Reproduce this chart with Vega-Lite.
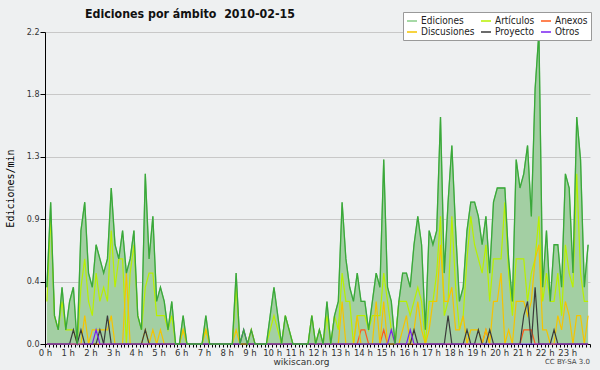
{
"$schema": "https://vega.github.io/schema/vega-lite/v6.json",
"width": 545, "height": 312,
"autosize": {"type": "none"},
"padding": {"left": 45, "top": 32, "right": 10, "bottom": 26},
"background": "#eef0f1",
"title": {"text": "Ediciones por ámbito\u00a0\u00a02010-02-15", "anchor": "start", "frame": "group", "dx": 40, "dy": 15, "offset": 6, "font": "DejaVu Sans Condensed", "fontWeight": "bold", "fontSize": 12.3, "color": "#111"},
"config": {"view": {"stroke": null}, "font": "DejaVu Sans", "axis": {"domainColor": "#000", "tickColor": "#000", "labelColor": "#333", "labelFontSize": 8, "labelFont": "DejaVu Sans"}},
"data": {"values": [
{"m":5,"e":0.4,"a":0.3,"x":0,"d":0,"p":0,"o":0},
{"m":15,"e":1,"a":0.9,"x":0,"d":0,"p":0,"o":0},
{"m":25,"e":0.2,"a":0.2,"x":0,"d":0,"p":0,"o":0},
{"m":35,"e":0.1,"a":0.1,"x":0,"d":0,"p":0,"o":0},
{"m":45,"e":0.4,"a":0.3,"x":0,"d":0,"p":0,"o":0},
{"m":55,"e":0.1,"a":0.1,"x":0,"d":0,"p":0,"o":0},
{"m":65,"e":0.3,"a":0.1,"x":0,"d":0,"p":0,"o":0},
{"m":75,"e":0.4,"a":0.1,"x":0,"d":0,"p":0.1,"o":0},
{"m":85,"e":0,"a":0,"x":0,"d":0,"p":0,"o":0},
{"m":95,"e":0.8,"a":0.4,"x":0,"d":0,"p":0.1,"o":0},
{"m":105,"e":1,"a":0.6,"x":0,"d":0.2,"p":0,"o":0},
{"m":115,"e":0.5,"a":0.3,"x":0,"d":0,"p":0,"o":0},
{"m":125,"e":0.4,"a":0.2,"x":0,"d":0.1,"p":0,"o":0},
{"m":135,"e":0.7,"a":0.5,"x":0,"d":0.1,"p":0,"o":0.1},
{"m":145,"e":0.6,"a":0.3,"x":0,"d":0.1,"p":0.1,"o":0},
{"m":155,"e":0.5,"a":0.4,"x":0,"d":0.1,"p":0,"o":0},
{"m":165,"e":0.6,"a":0.3,"x":0,"d":0.1,"p":0.2,"o":0},
{"m":175,"e":1.1,"a":0.8,"x":0,"d":0.2,"p":0,"o":0},
{"m":185,"e":0.7,"a":0.4,"x":0,"d":0,"p":0,"o":0},
{"m":195,"e":0.6,"a":0.6,"x":0,"d":0,"p":0,"o":0},
{"m":205,"e":0.8,"a":0.6,"x":0,"d":0,"p":0,"o":0},
{"m":215,"e":0.5,"a":0,"x":0,"d":0.5,"p":0,"o":0},
{"m":225,"e":0.6,"a":0.5,"x":0,"d":0,"p":0,"o":0},
{"m":235,"e":0.8,"a":0.7,"x":0,"d":0,"p":0,"o":0},
{"m":245,"e":0.2,"a":0.2,"x":0,"d":0,"p":0,"o":0},
{"m":255,"e":0.1,"a":0.1,"x":0,"d":0,"p":0,"o":0},
{"m":265,"e":1.2,"a":0.4,"x":0,"d":0.1,"p":0.1,"o":0},
{"m":275,"e":0.6,"a":0.5,"x":0,"d":0,"p":0,"o":0},
{"m":285,"e":0.9,"a":0.5,"x":0,"d":0.1,"p":0,"o":0},
{"m":295,"e":0.3,"a":0.2,"x":0,"d":0,"p":0,"o":0},
{"m":305,"e":0.4,"a":0.2,"x":0,"d":0.1,"p":0,"o":0},
{"m":315,"e":0.3,"a":0.2,"x":0,"d":0,"p":0,"o":0},
{"m":325,"e":0.1,"a":0.1,"x":0,"d":0,"p":0,"o":0},
{"m":335,"e":0.3,"a":0.2,"x":0,"d":0,"p":0,"o":0},
{"m":345,"e":0,"a":0,"x":0,"d":0,"p":0,"o":0},
{"m":355,"e":0,"a":0,"x":0,"d":0,"p":0,"o":0},
{"m":365,"e":0.2,"a":0.1,"x":0,"d":0.1,"p":0,"o":0},
{"m":375,"e":0,"a":0,"x":0,"d":0,"p":0,"o":0},
{"m":385,"e":0,"a":0,"x":0,"d":0,"p":0,"o":0},
{"m":395,"e":0,"a":0,"x":0,"d":0,"p":0,"o":0},
{"m":405,"e":0,"a":0,"x":0,"d":0,"p":0,"o":0},
{"m":415,"e":0,"a":0,"x":0,"d":0,"p":0,"o":0},
{"m":425,"e":0.2,"a":0.1,"x":0,"d":0.1,"p":0,"o":0},
{"m":435,"e":0,"a":0,"x":0,"d":0,"p":0,"o":0},
{"m":445,"e":0,"a":0,"x":0,"d":0,"p":0,"o":0},
{"m":455,"e":0,"a":0,"x":0,"d":0,"p":0,"o":0},
{"m":465,"e":0,"a":0,"x":0,"d":0,"p":0,"o":0},
{"m":475,"e":0,"a":0,"x":0,"d":0,"p":0,"o":0},
{"m":485,"e":0,"a":0,"x":0,"d":0,"p":0,"o":0},
{"m":495,"e":0,"a":0,"x":0,"d":0,"p":0,"o":0},
{"m":505,"e":0.5,"a":0.4,"x":0,"d":0.1,"p":0,"o":0},
{"m":515,"e":0,"a":0,"x":0,"d":0,"p":0,"o":0},
{"m":525,"e":0.1,"a":0,"x":0,"d":0,"p":0,"o":0.1},
{"m":535,"e":0,"a":0,"x":0,"d":0,"p":0,"o":0},
{"m":545,"e":0.1,"a":0,"x":0,"d":0.1,"p":0,"o":0},
{"m":555,"e":0,"a":0,"x":0,"d":0,"p":0,"o":0},
{"m":565,"e":0,"a":0,"x":0,"d":0,"p":0,"o":0},
{"m":575,"e":0,"a":0,"x":0,"d":0,"p":0,"o":0},
{"m":585,"e":0,"a":0,"x":0,"d":0,"p":0,"o":0},
{"m":595,"e":0.2,"a":0.1,"x":0,"d":0,"p":0,"o":0},
{"m":605,"e":0.4,"a":0.2,"x":0,"d":0,"p":0,"o":0},
{"m":615,"e":0.2,"a":0.1,"x":0,"d":0,"p":0,"o":0},
{"m":625,"e":0,"a":0,"x":0,"d":0,"p":0,"o":0},
{"m":635,"e":0.2,"a":0.2,"x":0,"d":0,"p":0,"o":0},
{"m":645,"e":0.1,"a":0.1,"x":0,"d":0,"p":0,"o":0},
{"m":655,"e":0,"a":0,"x":0,"d":0,"p":0,"o":0},
{"m":665,"e":0,"a":0,"x":0,"d":0,"p":0,"o":0},
{"m":675,"e":0,"a":0,"x":0,"d":0,"p":0,"o":0},
{"m":685,"e":0,"a":0,"x":0,"d":0,"p":0,"o":0},
{"m":695,"e":0,"a":0,"x":0,"d":0,"p":0,"o":0},
{"m":705,"e":0.2,"a":0.2,"x":0,"d":0,"p":0,"o":0},
{"m":715,"e":0,"a":0,"x":0,"d":0,"p":0,"o":0},
{"m":725,"e":0.1,"a":0.1,"x":0,"d":0,"p":0,"o":0},
{"m":735,"e":0,"a":0,"x":0,"d":0,"p":0,"o":0},
{"m":745,"e":0.3,"a":0.2,"x":0,"d":0,"p":0,"o":0},
{"m":755,"e":0,"a":0,"x":0,"d":0,"p":0,"o":0},
{"m":765,"e":0.2,"a":0.2,"x":0,"d":0,"p":0,"o":0},
{"m":775,"e":0.3,"a":0.1,"x":0,"d":0,"p":0,"o":0},
{"m":785,"e":1,"a":0.5,"x":0,"d":0.3,"p":0,"o":0},
{"m":795,"e":0.6,"a":0.3,"x":0,"d":0,"p":0,"o":0},
{"m":805,"e":0.4,"a":0.3,"x":0,"d":0,"p":0,"o":0},
{"m":815,"e":0.3,"a":0,"x":0,"d":0,"p":0,"o":0},
{"m":825,"e":0.5,"a":0.2,"x":0,"d":0.2,"p":0,"o":0},
{"m":835,"e":0.3,"a":0.2,"x":0.1,"d":0,"p":0,"o":0},
{"m":845,"e":0.3,"a":0.2,"x":0.1,"d":0,"p":0,"o":0},
{"m":855,"e":0.1,"a":0.1,"x":0,"d":0,"p":0,"o":0},
{"m":865,"e":0.3,"a":0.2,"x":0,"d":0,"p":0,"o":0},
{"m":875,"e":0.5,"a":0.2,"x":0,"d":0.3,"p":0,"o":0},
{"m":885,"e":0.4,"a":0.2,"x":0,"d":0,"p":0,"o":0},
{"m":895,"e":1.3,"a":0.5,"x":0.1,"d":0.3,"p":0,"o":0},
{"m":905,"e":0.4,"a":0.3,"x":0,"d":0,"p":0,"o":0},
{"m":915,"e":0.3,"a":0.1,"x":0,"d":0,"p":0,"o":0.1},
{"m":925,"e":0,"a":0,"x":0,"d":0,"p":0,"o":0},
{"m":935,"e":0.3,"a":0.3,"x":0,"d":0,"p":0,"o":0},
{"m":945,"e":0.5,"a":0.3,"x":0,"d":0.1,"p":0,"o":0},
{"m":955,"e":0.5,"a":0.3,"x":0,"d":0.2,"p":0,"o":0},
{"m":965,"e":0.4,"a":0.2,"x":0,"d":0,"p":0,"o":0.1},
{"m":975,"e":0.7,"a":0.3,"x":0,"d":0.1,"p":0.1,"o":0},
{"m":985,"e":0.9,"a":0.4,"x":0,"d":0.3,"p":0,"o":0},
{"m":995,"e":0.7,"a":0.3,"x":0,"d":0.1,"p":0,"o":0},
{"m":1005,"e":0.1,"a":0,"x":0,"d":0,"p":0,"o":0},
{"m":1015,"e":0.8,"a":0.3,"x":0,"d":0.1,"p":0,"o":0},
{"m":1025,"e":0.7,"a":0.3,"x":0,"d":0.3,"p":0,"o":0},
{"m":1035,"e":0.8,"a":0.5,"x":0,"d":0.3,"p":0,"o":0},
{"m":1045,"e":1.6,"a":0.9,"x":0,"d":0.7,"p":0,"o":0},
{"m":1055,"e":0.5,"a":0.2,"x":0,"d":0.3,"p":0,"o":0},
{"m":1065,"e":1,"a":0.3,"x":0,"d":0.3,"p":0.2,"o":0},
{"m":1075,"e":1.4,"a":0.9,"x":0,"d":0.4,"p":0,"o":0},
{"m":1085,"e":0.8,"a":0.4,"x":0,"d":0.1,"p":0,"o":0},
{"m":1095,"e":0.3,"a":0.1,"x":0,"d":0.1,"p":0,"o":0},
{"m":1105,"e":0.4,"a":0.2,"x":0,"d":0.2,"p":0,"o":0},
{"m":1115,"e":0.8,"a":0.6,"x":0,"d":0,"p":0.1,"o":0},
{"m":1125,"e":1,"a":0.9,"x":0,"d":0.1,"p":0,"o":0},
{"m":1135,"e":1,"a":0.7,"x":0,"d":0.1,"p":0,"o":0},
{"m":1145,"e":0.9,"a":0.6,"x":0,"d":0.1,"p":0.1,"o":0},
{"m":1155,"e":0.7,"a":0.5,"x":0,"d":0,"p":0,"o":0},
{"m":1165,"e":0.9,"a":0.7,"x":0.1,"d":0.1,"p":0,"o":0},
{"m":1175,"e":0.5,"a":0.3,"x":0,"d":0,"p":0.1,"o":0},
{"m":1185,"e":1,"a":0.6,"x":0,"d":0.3,"p":0,"o":0},
{"m":1195,"e":1.1,"a":0.6,"x":0,"d":0.3,"p":0,"o":0},
{"m":1205,"e":1.1,"a":0.6,"x":0,"d":0.5,"p":0,"o":0},
{"m":1215,"e":1.1,"a":1,"x":0,"d":0,"p":0,"o":0},
{"m":1225,"e":0.6,"a":0.5,"x":0,"d":0.1,"p":0,"o":0},
{"m":1235,"e":0.3,"a":0.2,"x":0,"d":0,"p":0,"o":0},
{"m":1245,"e":1.3,"a":0.6,"x":0,"d":0.3,"p":0,"o":0},
{"m":1255,"e":1.1,"a":0.6,"x":0,"d":0.3,"p":0,"o":0},
{"m":1265,"e":1.2,"a":0.6,"x":0.1,"d":0.3,"p":0.2,"o":0},
{"m":1275,"e":1.4,"a":0.3,"x":0.1,"d":0.2,"p":0.3,"o":0},
{"m":1285,"e":0.9,"a":0.5,"x":0.1,"d":0.3,"p":0,"o":0},
{"m":1295,"e":1.8,"a":0.6,"x":0,"d":0.6,"p":0.4,"o":0},
{"m":1305,"e":2.2,"a":0.9,"x":0,"d":0.7,"p":0,"o":0},
{"m":1315,"e":0.4,"a":0.3,"x":0,"d":0.1,"p":0,"o":0},
{"m":1325,"e":0.8,"a":0.5,"x":0,"d":0.1,"p":0,"o":0},
{"m":1335,"e":0.3,"a":0.3,"x":0,"d":0,"p":0,"o":0},
{"m":1345,"e":0.7,"a":0.3,"x":0,"d":0,"p":0.1,"o":0},
{"m":1355,"e":0.7,"a":0.5,"x":0,"d":0.2,"p":0,"o":0},
{"m":1365,"e":0.4,"a":0.2,"x":0,"d":0.1,"p":0,"o":0},
{"m":1375,"e":1.2,"a":0.7,"x":0,"d":0.3,"p":0,"o":0},
{"m":1385,"e":1.1,"a":0.5,"x":0,"d":0.2,"p":0,"o":0},
{"m":1395,"e":0.5,"a":0.4,"x":0,"d":0,"p":0,"o":0},
{"m":1405,"e":1.6,"a":1.2,"x":0,"d":0.2,"p":0,"o":0},
{"m":1415,"e":1.3,"a":0.5,"x":0,"d":0.2,"p":0,"o":0},
{"m":1425,"e":0.4,"a":0.3,"x":0,"d":0,"p":0,"o":0},
{"m":1435,"e":0.7,"a":0.3,"x":0,"d":0.2,"p":0,"o":0}
]},
"encoding": {
 "x": {"field": "m", "type": "quantitative", "scale": {"domain": [0, 1440], "nice": false, "zero": false},
  "axis": {"values": [0,10,20,30,40,50,60,70,80,90,100,110,120,130,140,150,160,170,180,190,200,210,220,230,240,250,260,270,280,290,300,310,320,330,340,350,360,370,380,390,400,410,420,430,440,450,460,470,480,490,500,510,520,530,540,550,560,570,580,590,600,610,620,630,640,650,660,670,680,690,700,710,720,730,740,750,760,770,780,790,800,810,820,830,840,850,860,870,880,890,900,910,920,930,940,950,960,970,980,990,1000,1010,1020,1030,1040,1050,1060,1070,1080,1090,1100,1110,1120,1130,1140,1150,1160,1170,1180,1190,1200,1210,1220,1230,1240,1250,1260,1270,1280,1290,1300,1310,1320,1330,1340,1350,1360,1370,1380,1390,1400,1410,1420,1430,1440],
   "labelExpr": "datum.value % 60 == 0 && datum.value < 1440 ? (datum.value / 60) + ' h' : ''",
   "labelOverlap": false, "labelFlush": false, "labelBound": false, "tickSize": 3, "labelPadding": 1, "grid": false,
   "labelFontSize": 8.5,
   "title": "wikiscan.org", "titleFontSize": 9, "titleFontWeight": "normal", "titleColor": "#333", "titlePadding": 1, "titleX": 256}}
},
"layer": [
{
 "mark": {"type": "area", "color": "#a3cfa3", "opacity": 1},
 "encoding": {
  "y": {"field": "e", "type": "quantitative", "scale": {"domain": [0, 2.2], "nice": false},
   "axis": {"values": [0,0.22,0.44,0.66,0.88,1.1,1.32,1.54,1.76,1.98,2.2],
    "labelExpr": "abs(datum.value / 0.44 - round(datum.value / 0.44)) < 0.01 ? format(datum.value, '.1f') : ''",
    "tickSize": {"condition": {"test": "abs(datum.value / 0.44 - round(datum.value / 0.44)) < 0.01", "value": 5}, "value": 3},
    "grid": true, "gridColor": "#c8c8c8", "gridWidth": 1,
    "gridOpacity": {"condition": {"test": "abs(datum.value / 0.44 - round(datum.value / 0.44)) < 0.01 && datum.value > 0", "value": 1}, "value": 0},
    "labelPadding": 1, "labelOverlap": false,
    "title": "Ediciones/min", "titleFont": "DejaVu Sans Mono", "titleFontSize": 10, "titleFontWeight": "normal", "titleColor": "#000", "titlePadding": 11}}
 }
},
{
 "transform": [{"fold": ["e", "a", "x", "d", "p", "o"], "as": ["k", "v"]}],
 "mark": {"type": "line", "strokeWidth": 1.2},
 "encoding": {
  "y": {"field": "v", "type": "quantitative"},
  "color": {"field": "k", "type": "nominal",
   "scale": {"domain": ["e", "a", "x", "d", "p", "o"], "range": ["#88cc88", "#b8f000", "#ff5a1a", "#f5c400", "#3a3a3a", "#7a22f0"]},
   "legend": {"orient": "none", "legendX": 358, "legendY": -20, "direction": "horizontal", "columns": 3, "title": null,
    "symbolType": "stroke", "symbolStrokeWidth": 1.5, "symbolSize": 100, "labelOffset": 3,
    "labelFont": "DejaVu Sans Condensed", "labelFontSize": 10, "labelColor": "#222", "labelLimit": 100,
    "fillColor": "#ffffff", "strokeColor": "#999999", "padding": 3, "rowPadding": 0, "columnPadding": 3,
    "labelExpr": "datum.label == 'e' ? 'Ediciones' : datum.label == 'a' ? 'Artículos' : datum.label == 'x' ? 'Anexos' : datum.label == 'd' ? 'Discusiones' : datum.label == 'p' ? 'Proyecto' : 'Otros'"}}
 }
},
{
 "mark": {"type": "line", "color": "#3aa83a", "strokeWidth": 1.3},
 "encoding": {"y": {"field": "e", "type": "quantitative"}}
},
{
 "data": {"values": [{"m": 1440, "z": 0, "t": "CC BY-SA 3.0"}]},
 "mark": {"type": "text", "align": "right", "baseline": "middle", "dy": 18, "fontSize": 7, "font": "DejaVu Sans", "color": "#444"},
 "encoding": {"y": {"field": "z", "type": "quantitative"}, "text": {"field": "t"}}
}
]
}
